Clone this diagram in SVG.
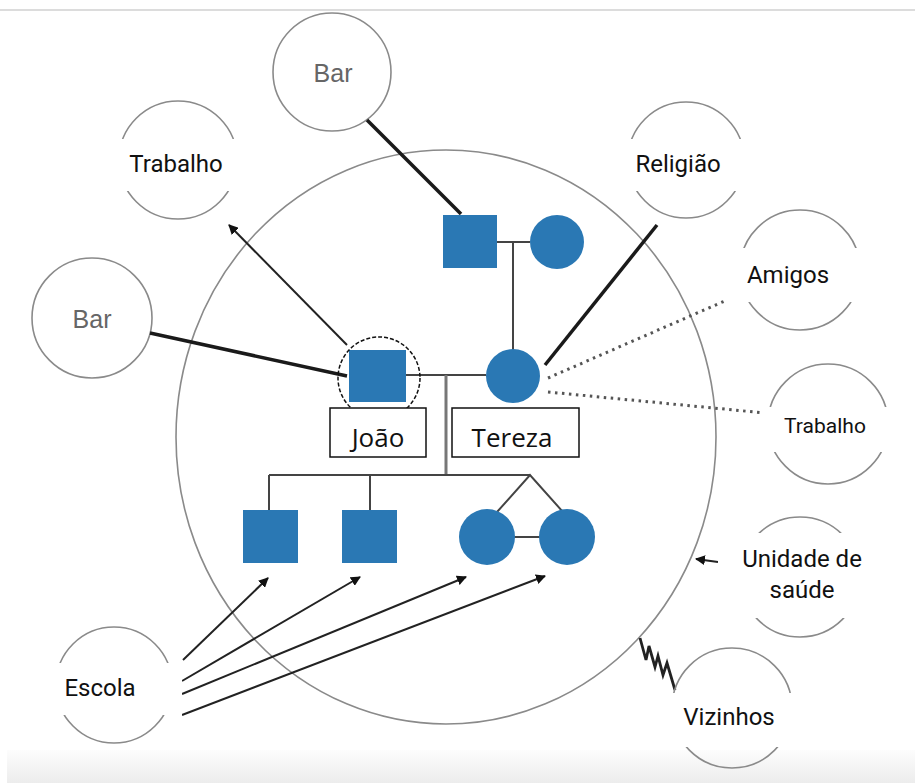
<svg xmlns="http://www.w3.org/2000/svg" width="915" height="783" viewBox="0 0 915 783">
<defs>
<style>
.ring{fill:none;stroke:#8a8a8a;stroke-width:1.6}
.mask{fill:#fff}
.lbl{font-family:Roboto,"Liberation Sans",sans-serif;font-size:24px;fill:#111;text-anchor:middle}
.bar{font-family:"Liberation Sans",Arial,sans-serif;font-size:25px;fill:#666;text-anchor:middle}
.name{font-family:"Open Sans","Noto Sans",sans-serif;font-size:26px;fill:#111;text-anchor:middle}
.nbox{fill:#fff;stroke:#111;stroke-width:1.5}
.fam{fill:#2a78b4}
.kin{stroke:#444;stroke-width:2;fill:none}
.strong{stroke:#1a1a1a;stroke-width:3.5;fill:none}
.norm{stroke:#222;stroke-width:2;fill:none}
.weak{stroke:#555;stroke-width:3;stroke-dasharray:2.5 4.5;fill:none}
</style>
<marker id="ah" viewBox="0 0 10 10" refX="9" refY="5" markerWidth="5" markerHeight="5" orient="auto-start-reverse">
<path d="M0,0 L10,5 L0,10 z" fill="#111"/>
</marker>
<linearGradient id="bot" x1="0" y1="0" x2="0" y2="1">
<stop offset="0" stop-color="#fdfdfd"/>
<stop offset="1" stop-color="#ececec"/>
</linearGradient>
</defs>
<rect width="915" height="783" fill="#fff"/>
<line x1="0" y1="10" x2="915" y2="10" stroke="#dcdcdc" stroke-width="2"/>
<rect x="7" y="750" width="908" height="33" fill="url(#bot)"/>

<g id="ecomap">
<ellipse cx="446" cy="437" rx="270" ry="287" class="ring" stroke-width="1.5"/>
</g>

<g id="bar-top"><circle cx="332" cy="72" r="59" class="ring"/><text x="333" y="82" class="bar">Bar</text></g>
<g id="bar-left"><circle cx="92" cy="318" r="60" class="ring"/><text x="92" y="328" class="bar">Bar</text></g>

<g id="connectors">
<line x1="150" y1="333" x2="347" y2="376" class="strong"/>
<line x1="367" y1="120" x2="461" y2="214" class="strong"/>
<line x1="347" y1="345" x2="229" y2="225" class="norm" marker-end="url(#ah)"/>
<line x1="545" y1="365" x2="657" y2="225" class="strong"/>
<line x1="548" y1="378" x2="727" y2="300" class="weak"/>
<line x1="548" y1="392" x2="765" y2="413" class="weak"/>
<line x1="718" y1="562" x2="696" y2="559" class="norm" marker-end="url(#ah)"/>
<polyline points="640,638 646,660 649,646 655,667 658,656 663,675 667,663 675,690" fill="none" stroke="#222" stroke-width="2.8"/>
<line x1="183" y1="660" x2="268" y2="578" class="norm" marker-end="url(#ah)"/>
<line x1="182" y1="681" x2="360" y2="577" class="norm" marker-end="url(#ah)"/>
<line x1="182" y1="694" x2="466" y2="577" class="norm" marker-end="url(#ah)"/>
<line x1="182" y1="715" x2="545" y2="576" class="norm" marker-end="url(#ah)"/>
</g>

<g id="trabalho-1"><circle cx="178" cy="160" r="59" class="ring"/><rect x="110" y="139" width="148" height="52" class="mask"/><text x="176" y="172" class="lbl">Trabalho</text></g>
<g id="religiao"><circle cx="686" cy="160" r="58" class="ring"/><rect x="618" y="139" width="130" height="52" class="mask"/><text x="678" y="172" class="lbl">Religião</text></g>
<g id="amigos"><circle cx="800" cy="270" r="60" class="ring"/><rect x="727" y="248" width="143" height="54" class="mask"/><text x="788" y="283" class="lbl">Amigos</text></g>
<g id="trabalho-2"><circle cx="828" cy="424" r="60" class="ring"/><rect x="763" y="407" width="147" height="45" class="mask"/><text x="825" y="433" class="lbl" style="font-size:21px">Trabalho</text></g>
<g id="unidade"><circle cx="800" cy="577" r="60" class="ring"/><rect x="718" y="533" width="170" height="85" class="mask"/><text x="802" y="567" class="lbl">Unidade de</text><text x="802" y="598" class="lbl">saúde</text></g>
<g id="vizinhos"><circle cx="732" cy="708" r="60" class="ring"/><rect x="663" y="693" width="135" height="54" class="mask"/><text x="729" y="725" class="lbl">Vizinhos</text></g>
<g id="escola"><circle cx="114" cy="685" r="58" class="ring"/><rect x="43" y="663" width="139" height="52" class="mask"/><text x="100" y="696" class="lbl">Escola</text></g>

<g id="genogram-lines">
<line x1="497" y1="242" x2="530" y2="242" class="kin"/>
<line x1="513" y1="242" x2="513" y2="350" class="kin"/>
<line x1="406" y1="375" x2="486" y2="375" class="kin"/>
<line x1="446" y1="375" x2="446" y2="475" stroke="#777" stroke-width="3"/>
<line x1="269" y1="475" x2="530" y2="475" class="kin"/>
<line x1="269" y1="475" x2="269" y2="510" class="kin"/>
<line x1="370" y1="475" x2="370" y2="510" class="kin"/>
<polyline points="497,512 530,475 563,512" class="kin"/>
<line x1="514" y1="537" x2="541" y2="537" class="kin"/>
</g>

<g id="avo"><rect x="443" y="215" width="54" height="53" class="fam"/></g>
<g id="avo-f"><circle cx="557" cy="242" r="27" class="fam"/></g>
<g id="joao">
<rect x="349" y="350" width="57" height="52" class="fam"/>
<circle cx="379" cy="378" r="41" fill="none" stroke="#111" stroke-width="1.5" stroke-dasharray="4 2"/>
<rect x="330" y="408" width="96" height="49" class="nbox"/>
<text x="378" y="447" class="name">João</text>
</g>
<g id="tereza">
<circle cx="513" cy="376" r="27" class="fam"/>
<rect x="452" y="408" width="127" height="49" class="nbox"/>
<text x="512" y="447" class="name">Tereza</text>
</g>
<g id="filho-1"><rect x="243" y="510" width="55" height="53" class="fam"/></g>
<g id="filho-2"><rect x="342" y="510" width="55" height="53" class="fam"/></g>
<g id="filha-1"><circle cx="487" cy="537" r="28" class="fam"/></g>
<g id="filha-2"><circle cx="567" cy="537" r="28" class="fam"/></g>
</svg>
